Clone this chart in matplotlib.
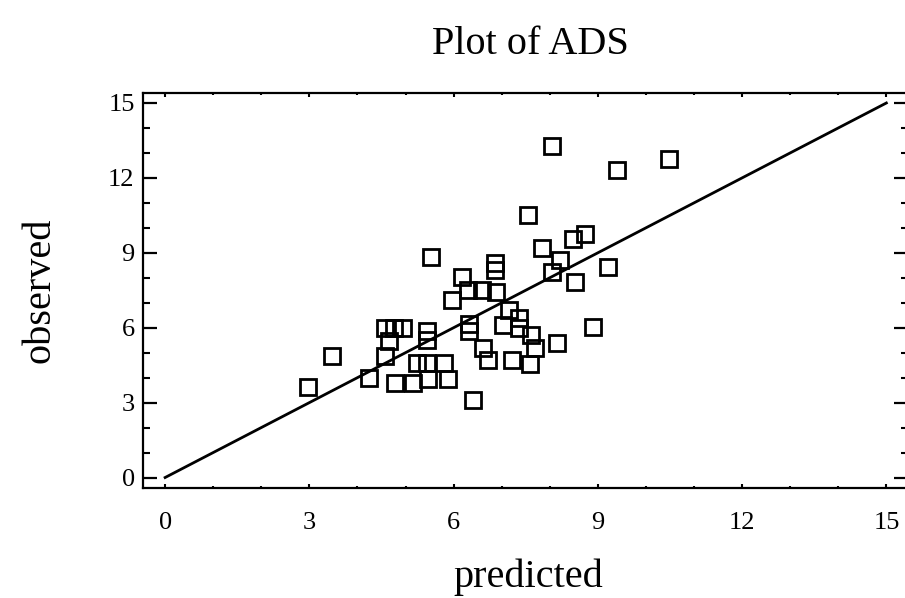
import matplotlib
matplotlib.use("Agg")
import matplotlib.pyplot as plt
from matplotlib.ticker import MultipleLocator

plt.rcParams['font.family'] = ['Liberation Serif', 'DejaVu Serif']

predicted = [2.98, 3.48, 4.25, 4.57, 4.66, 4.57, 4.75, 4.95, 4.79, 5.16,
             5.23, 5.44, 5.47, 5.79, 5.88, 5.45, 5.45, 5.52, 5.96, 6.17,
             6.29, 6.60, 6.89, 6.86, 6.86, 6.33, 6.33, 6.41, 6.62, 6.72,
             7.03, 7.15, 7.35, 7.35, 7.60, 7.70, 7.21, 7.59, 8.14, 8.90,
             7.55, 7.83, 8.21, 8.04, 8.52, 9.22, 8.49, 8.73, 8.04, 9.39,
             10.48]
observed = [3.63, 4.86, 3.97, 4.88, 5.45, 6.00, 6.00, 6.00, 3.77, 3.77,
            4.57, 4.57, 3.95, 4.57, 3.95, 5.50, 5.85, 8.83, 7.10, 8.03,
            7.50, 7.50, 7.43, 8.60, 8.30, 6.15, 5.87, 3.12, 5.17, 4.70,
            6.10, 6.70, 6.37, 5.97, 5.70, 5.17, 4.70, 4.55, 5.37, 6.03,
            10.50, 9.20, 8.70, 8.23, 7.82, 8.43, 9.57, 9.77, 13.26, 12.33,
            12.77]
line_x = [0, 15]
line_y = [0, 15]
ticks = [0, 3, 6, 9, 12, 15]

fig = plt.figure(figsize=(9.05, 5.98), dpi=100)
ax = fig.add_axes([143/905, 1 - 488/598, (908 - 143)/905, (488 - 93)/598])

ax.plot(line_x, line_y, color='black', lw=2)
ax.plot(predicted, observed, 's', ms=12, mfc='none', mec='black', mew=2)

ax.set_xlim(-0.46, 15.45)
ax.set_ylim(-0.42, 15.4)
ax.set_xticks(ticks)
ax.set_yticks(ticks)
ax.xaxis.set_minor_locator(MultipleLocator(1))
ax.yaxis.set_minor_locator(MultipleLocator(1))

for s in ax.spines.values():
    s.set_linewidth(1.6)

ax.tick_params(axis='y', which='major', direction='in', length=10, width=1.6,
               right=True, labelsize=19, pad=6)
ax.tick_params(axis='y', which='minor', direction='in', length=5, width=1.5,
               right=True)
ax.tick_params(axis='x', which='major', direction='in', length=3, width=1.5,
               top=True, labelsize=19, pad=17)
ax.tick_params(axis='x', which='minor', direction='in', length=1.5, width=1.5,
               top=True)

fig.text(530/905, 1 - 45/598, 'Plot of ADS', ha='center', va='center', fontsize=29)
fig.text(528/905, 1 - 577/598, 'predicted', ha='center', va='center', fontsize=29)
fig.text(40/905, 1 - 290/598, 'observed', ha='center', va='center',
         rotation=90, fontsize=29)

fig.savefig('out.png', dpi=100)
